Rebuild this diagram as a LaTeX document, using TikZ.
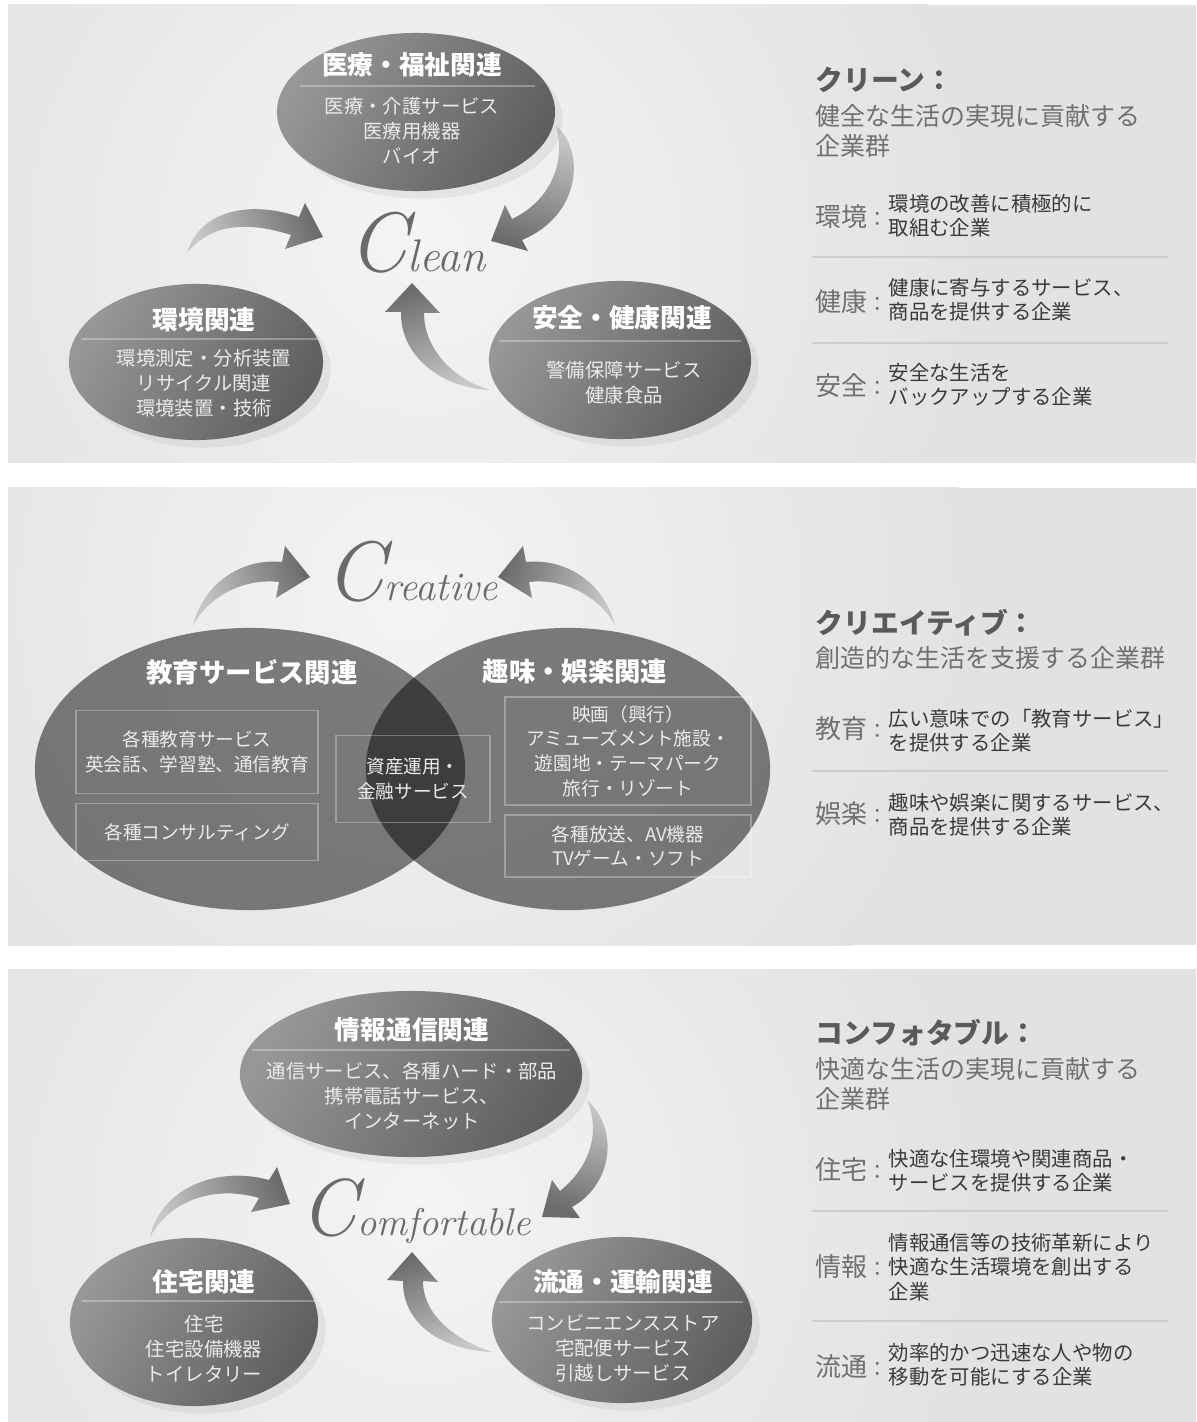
\documentclass[tikz,border=0pt]{standalone}
\usepackage{fontspec}
\newfontfamily\jpfont{Noto Sans CJK JP}
\usetikzlibrary{shapes.geometric,shadows}
\definecolor{panelbg}{HTML}{E2E2E2}
\definecolor{glow}{HTML}{F4F4F4}
\definecolor{balllight}{HTML}{979797}
\definecolor{balldark}{HTML}{5F5F5F}
\definecolor{arrlight}{HTML}{C8C8C8}
\definecolor{arrdark}{HTML}{6C6C6C}
\definecolor{headgray}{HTML}{5A5A5A}
\definecolor{subgray}{HTML}{707070}
\definecolor{descgray}{HTML}{3A3A3A}
\definecolor{rulegray}{HTML}{CDCDCD}
\definecolor{wordgray}{HTML}{6A6A6A}
\tikzset{
  ball/.style={ellipse, inner sep=0pt, top color=balllight, bottom color=balldark,
    shading angle=60, drop shadow={opacity=0.12}},
  venn/.style={ellipse, inner sep=0pt, fill=black, fill opacity=0.49},
  ttl/.style={inner sep=0pt, text=white, font=\jpfont\bfseries\fontsize{7.3}{8}\selectfont},
  itm/.style={inner sep=0pt, align=center, text=white!92!black,
    font=\jpfont\fontsize{5.5}{7.1}\selectfont},
  itembox/.style={draw=white, draw opacity=0.3, line width=0.4pt, inner sep=0pt,
    align=center, text=white!92!black, font=\jpfont\fontsize{5.3}{7.0}\selectfont},
  sepline/.style={white, opacity=0.3, line width=0.4pt},
  word/.style={anchor=base west, inner sep=0pt, text=wordgray},
  head/.style={anchor=west, inner sep=0pt, text=headgray,
    font=\jpfont\bfseries\fontsize{7.9}{9}\selectfont},
  sub/.style={anchor=west, align=left, inner sep=0pt, text=subgray,
    font=\jpfont\fontsize{7.1}{8.8}\selectfont},
  tag/.style={anchor=west, inner sep=0pt, text=subgray},
  desc/.style={anchor=west, align=left, inner sep=0pt, text=descgray,
    font=\jpfont\fontsize{5.8}{6.9}\selectfont},
  rule/.style={rulegray, line width=0.5pt}
}
\newcommand{\tagtext}[1]{{\jpfont\fontsize{7.4}{8}\selectfont #1}{\jpfont\fontsize{5.8}{7}\selectfont ：}}

\begin{document}
\begin{tikzpicture}[x=0.01cm, y=-0.01cm]
  \useasboundingbox (0,0) rectangle (1196,1422);
  % Draw panels
  \fill[panelbg] (8,5) rectangle (1196,463);
  \fill[panelbg] (8,488) rectangle (1196,945);
  \fill[panelbg] (8,969) rectangle (1196,1422);
  \begin{scope}
    \clip (8,5) rectangle (1196,463);
    \shade[inner color=glow, outer color=panelbg] (420,240) circle (560);
  \end{scope}
  \begin{scope}
    \clip (8,488) rectangle (1196,945);
    \shade[inner color=glow, outer color=panelbg] (410,600) circle (560);
  \end{scope}
  \begin{scope}
    \clip (8,969) rectangle (1196,1422);
    \shade[inner color=glow, outer color=panelbg] (420,1210) circle (560);
  \end{scope}

  % ---------- Clean ----------
  % Draw arrows
  \shade[top color=arrlight, bottom color=arrdark, shading angle=-20]
    (556,126) .. controls (585,150) and (582,215) .. (522,240) -- (528,251)
    -- (491,241) -- (505,205) -- (512,219) .. controls (552,200) and (566,160) .. cycle;
  \shade[top color=arrlight, bottom color=arrdark, shading angle=110]
    (187,253) .. controls (200,210) and (250,200) .. (299,217) -- (305,203)
    -- (323,237) -- (285,249) -- (291,235) .. controls (250,222) and (212,222) .. cycle;
  \shade[top color=arrdark, bottom color=arrlight, shading angle=20]
    (490,390) .. controls (455,380) and (424,350) .. (424,313) -- (440,313)
    -- (412,283) -- (385,312) -- (401,312) .. controls (400,355) and (440,388) .. cycle;
  % Draw groups
  \node[ball, minimum width=2.78cm, minimum height=1.58cm] (iryo) at (416,112) {};
  \node[ball, minimum width=2.54cm, minimum height=1.56cm] (kankyo) at (196,362) {};
  \node[ball, minimum width=2.62cm, minimum height=1.58cm] (anzen) at (620,360) {};
  \node[ttl] (iryottl) at (412,65) {医療・福祉関連};
  \draw[sepline] (300,86) -- (535,86);
  \node[itm] (iryoitm) at (412,131) {医療・介護サービス\\医療用機器\\バイオ};
  \node[ttl] (kankyottl) at (204,320) {環境関連};
  \draw[sepline] (82,339) -- (318,339);
  \node[itm] (kankyoitm) at (204,383) {環境測定・分析装置\\リサイクル関連\\環境装置・技術};
  \node[ttl] (anzenttl) at (622,318) {安全・健康関連};
  \draw[sepline] (499,341) -- (741,341);
  \node[itm] (anzenitm) at (624,383) {警備保障サービス\\健康食品};
  \node[word] (clean) at (348,272)
    {{\fontsize{24}{24}\selectfont\itshape C}{\fontsize{13}{13}\selectfont\itshape lean}};
  % Draw description
  \node[head] (cleanhead) at (815,80) {クリーン：};
  \node[sub] (cleansub) at (815,131) {健全な生活の実現に貢献する\\企業群};
  \node[tag] (tkankyo) at (815,217) {\tagtext{環境}};
  \node[desc] (dkankyo) at (888,216) {環境の改善に積極的に\\取組む企業};
  \draw[rule] (812,257) -- (1168,257);
  \node[tag] (tkenko) at (815,302) {\tagtext{健康}};
  \node[desc] (dkenko) at (888,300) {健康に寄与するサービス、\\商品を提供する企業};
  \draw[rule] (812,343) -- (1168,343);
  \node[tag] (tanzen) at (815,386) {\tagtext{安全}};
  \node[desc] (danzen) at (888,385) {安全な生活を\\バックアップする企業};

  % ---------- Creative ----------
  % Draw arrows
  \shade[top color=arrlight, bottom color=arrdark, shading angle=110]
    (193,625) .. controls (205,580) and (245,558) .. (282,562) -- (285,546)
    -- (310,577) -- (276,598) -- (279,582) .. controls (245,578) and (210,595) .. cycle;
  \shade[top color=arrlight, bottom color=arrdark, shading angle=-110]
    (615,625) .. controls (603,580) and (563,558) .. (526,562) -- (523,546)
    -- (498,577) -- (532,598) -- (529,582) .. controls (563,578) and (598,595) .. cycle;
  % Draw groups
  \node[venn, minimum width=4.30cm, minimum height=2.82cm] (kyoiku) at (250,769) {};
  \node[venn, minimum width=4.04cm, minimum height=2.82cm] (shumi) at (568,769) {};
  \node[ttl, font=\jpfont\bfseries\fontsize{7.5}{8}\selectfont] (kyoikuttl) at (252,672) {教育サービス関連};
  \node[ttl, font=\jpfont\bfseries\fontsize{7.5}{8}\selectfont] (shumittl) at (575,672) {趣味・娯楽関連};
  \node[itembox, minimum width=2.42cm, minimum height=0.83cm] (kyoiku1) at (197,752)
    {各種教育サービス\\英会話、学習塾、通信教育};
  \node[itembox, minimum width=2.42cm, minimum height=0.57cm] (kyoiku2) at (197,832)
    {各種コンサルティング};
  \node[itembox, minimum width=1.54cm, minimum height=0.87cm] (shisan) at (413,779)
    {資産運用・\\金融サービス};
  \node[itembox, minimum width=2.46cm, minimum height=1.08cm] (shumi1) at (628,751)
    {映画（興行）\\アミューズメント施設・\\遊園地・テーマパーク\\旅行・リゾート};
  \node[itembox, minimum width=2.46cm, minimum height=0.62cm] (shumi2) at (628,846)
    {各種放送、AV機器\\TVゲーム・ソフト};
  \node[word] (creative) at (325,600)
    {{\fontsize{24}{24}\selectfont\itshape C}{\fontsize{11.5}{12}\selectfont\itshape reative}};
  % Draw description
  \node[head] (creahead) at (815,623) {クリエイティブ：};
  \node[sub] (creasub) at (815,658) {創造的な生活を支援する企業群};
  \node[tag] (tkyoiku) at (815,729) {\tagtext{教育}};
  \node[desc] (dkyoiku) at (888,731) {広い意味での「教育サービス」\\を提供する企業};
  \draw[rule] (812,771) -- (1168,771);
  \node[tag] (tgoraku) at (815,814) {\tagtext{娯楽}};
  \node[desc] (dgoraku) at (888,815) {趣味や娯楽に関するサービス、\\商品を提供する企業};

  % ---------- Comfortable ----------
  % Draw arrows
  \shade[top color=arrlight, bottom color=arrdark, shading angle=110]
    (150,1237) .. controls (160,1190) and (215,1165) .. (269,1180) -- (277,1167)
    -- (290,1204) -- (251,1212) -- (259,1198) .. controls (215,1185) and (170,1200) .. cycle;
  \shade[top color=arrlight, bottom color=arrdark, shading angle=-20]
    (587,1100) .. controls (620,1130) and (612,1185) .. (572,1207) -- (580,1218)
    -- (542,1217) -- (552,1180) -- (560,1191) .. controls (592,1165) and (600,1130) .. cycle;
  \shade[top color=arrdark, bottom color=arrlight, shading angle=20]
    (492,1352) .. controls (455,1340) and (423,1315) .. (423,1281) -- (438,1282)
    -- (412,1252) -- (387,1280) -- (403,1281) .. controls (402,1322) and (440,1350) .. cycle;
  % Draw groups
  \node[ball, minimum width=3.42cm, minimum height=1.66cm] (joho) at (411,1074) {};
  \node[ball, minimum width=2.48cm, minimum height=1.68cm] (jutaku) at (194,1322) {};
  \node[ball, minimum width=2.60cm, minimum height=1.66cm] (ryutsu) at (622,1320) {};
  \node[ttl] (johottl) at (412,1030) {情報通信関連};
  \draw[sepline] (252,1050) -- (570,1050);
  \node[itm] (johoitm) at (412,1096) {通信サービス、各種ハード・部品\\携帯電話サービス、\\インターネット};
  \node[ttl] (jutakuttl) at (204,1282) {住宅関連};
  \draw[sepline] (82,1301) -- (318,1301);
  \node[itm] (jutakuitm) at (204,1349) {住宅\\住宅設備機器\\トイレタリー};
  \node[ttl] (ryutsuttl) at (623,1282) {流通・運輸関連};
  \draw[sepline] (499,1302) -- (743,1302);
  \node[itm] (ryutsuitm) at (623,1348) {コンビニエンスストア\\宅配便サービス\\引越しサービス};
  \node[word] (comfort) at (300,1235)
    {{\fontsize{23}{24}\selectfont\itshape C}{\fontsize{11}{12}\selectfont\itshape omfortable}};
  % Draw description
  \node[head] (comfhead) at (815,1033) {コンフォタブル：};
  \node[sub] (comfsub) at (815,1084) {快適な生活の実現に貢献する\\企業群};
  \node[tag] (tjutaku) at (815,1170) {\tagtext{住宅}};
  \node[desc] (djutaku) at (888,1171) {快適な住環境や関連商品・\\サービスを提供する企業};
  \draw[rule] (812,1211) -- (1168,1211);
  \node[tag] (tjoho) at (815,1267) {\tagtext{情報}};
  \node[desc] (djoho) at (888,1267) {情報通信等の技術革新により\\快適な生活環境を創出する\\企業};
  \draw[rule] (812,1321) -- (1168,1321);
  \node[tag] (tryutsu) at (815,1367) {\tagtext{流通}};
  \node[desc] (dryutsu) at (888,1365) {効率的かつ迅速な人や物の\\移動を可能にする企業};
\end{tikzpicture}
\end{document}
